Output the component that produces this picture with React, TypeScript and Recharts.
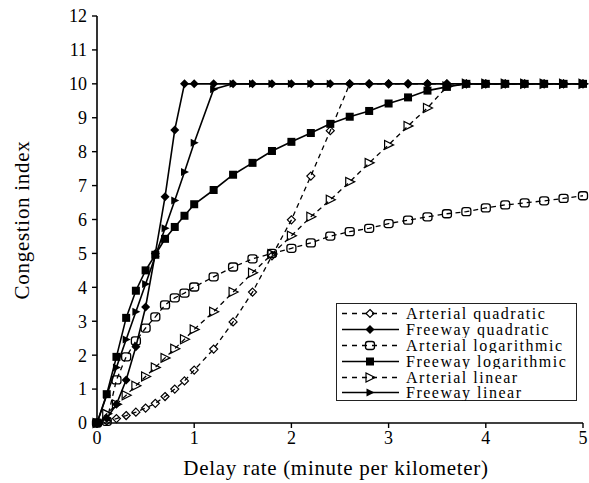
import React from "react";
import { ComposedChart, Line, XAxis, YAxis, Label } from "recharts";

// delay rate samples (minute per kilometer)
const delayRate = [0, 0.1, 0.2, 0.3, 0.4, 0.5, 0.6, 0.7, 0.8, 0.9, 1.0, 1.2, 1.4, 1.6, 1.8, 2.0, 2.2, 2.4, 2.6, 2.8, 3.0, 3.2, 3.4, 3.6, 3.8, 4.0, 4.2, 4.4, 4.6, 4.8, 5.0];

// congestion index
const arterialQuadratic = [0, 0.06, 0.13, 0.22, 0.32, 0.44, 0.58, 0.78, 1.0, 1.24, 1.56, 2.18, 2.98, 3.86, 4.93, 5.99, 7.28, 8.62, 10, 10, 10, 10, 10, 10, 10, 10, 10, 10, 10, 10, 10];
const freewayQuadratic = [0, 0.14, 0.55, 1.27, 2.25, 3.42, 5.0, 6.67, 8.64, 10, 10, 10, 10, 10, 10, 10, 10, 10, 10, 10, 10, 10, 10, 10, 10, 10, 10, 10, 10, 10, 10];
const arterialLogarithmic = [0, 0.05, 1.27, 1.95, 2.42, 2.8, 3.13, 3.48, 3.69, 3.83, 4.01, 4.31, 4.6, 4.84, 5.0, 5.15, 5.31, 5.51, 5.64, 5.74, 5.88, 5.98, 6.08, 6.17, 6.23, 6.34, 6.43, 6.49, 6.55, 6.62, 6.7];
const freewayLogarithmic = [0, 0.85, 1.95, 3.1, 3.9, 4.5, 4.96, 5.43, 5.78, 6.11, 6.45, 6.87, 7.32, 7.67, 8.02, 8.29, 8.55, 8.82, 9.03, 9.2, 9.42, 9.6, 9.8, 9.91, 10, 10, 10, 10, 10, 10, 10];
const arterialLinear = [0, 0.27, 0.55, 0.82, 1.1, 1.37, 1.64, 1.92, 2.19, 2.47, 2.76, 3.28, 3.86, 4.43, 4.98, 5.52, 6.08, 6.58, 7.11, 7.67, 8.2, 8.76, 9.29, 9.92, 10, 10, 10, 10, 10, 10, 10];
const freewayLinear = [0, 0.82, 1.64, 2.46, 3.28, 4.1, 4.92, 5.74, 6.56, 7.4, 8.26, 9.84, 10, 10, 10, 10, 10, 10, null, null, null, null, null, null, null, null, null, null, null, null, null];

const xTicks = [0, 1, 2, 3, 4, 5];
const yTicks = [0, 1, 2, 3, 4, 5, 6, 7, 8, 9, 10, 11, 12];

const FONT = '"Liberation Serif", "Times New Roman", serif';

type MarkerKind = "diamondOpen" | "diamondFilled" | "squareOpen" | "squareFilled" | "triangleOpen" | "triangleFilled";

function Marker({ kind, cx, cy }: { kind: MarkerKind; cx: number; cy: number }) {
    switch (kind) {
        case "diamondOpen":
            return <path d={`M${cx},${cy - 4} L${cx + 4},${cy} L${cx},${cy + 4} L${cx - 4},${cy} Z`} fill="none" stroke="#000" strokeWidth={1.2} />;
        case "diamondFilled":
            return <path d={`M${cx},${cy - 4.5} L${cx + 4.5},${cy} L${cx},${cy + 4.5} L${cx - 4.5},${cy} Z`} fill="#000" />;
        case "squareOpen":
            return <rect x={cx - 4.5} y={cy - 4} width={9} height={8} rx={2.5} fill="none" stroke="#000" strokeWidth={1.3} />;
        case "squareFilled":
            return <rect x={cx - 4} y={cy - 4} width={8} height={8} fill="#000" />;
        case "triangleOpen":
            return <path d={`M${cx - 4},${cy - 4.5} L${cx - 4},${cy + 4.5} L${cx + 5},${cy} Z`} fill="none" stroke="#000" strokeWidth={1.2} />;
        case "triangleFilled":
            return <path d={`M${cx - 3.5},${cy - 4} L${cx - 3.5},${cy + 4} L${cx + 4.5},${cy} Z`} fill="#000" />;
    }
    return null;
}

const renderDot = (kind: MarkerKind) => (p: any) => {
    if (p.cx == null || p.cy == null || p.value == null) return <g key={`d-${p.index}`} />;
    return <Marker key={`d-${p.index}`} kind={kind} cx={p.cx} cy={p.cy} />;
};

const rows = delayRate.map((x, i) => ({
    x,
    aq: arterialQuadratic[i],
    fq: freewayQuadratic[i],
    alog: arterialLogarithmic[i],
    flog: freewayLogarithmic[i],
    alin: arterialLinear[i],
    flin: freewayLinear[i],
}));

// legend order as in the figure
const legendItems: { name: string; dashed: boolean; marker: MarkerKind }[] = [
    { name: "Arterial quadratic", dashed: true, marker: "diamondOpen" },
    { name: "Freeway quadratic", dashed: false, marker: "diamondFilled" },
    { name: "Arterial logarithmic", dashed: true, marker: "squareOpen" },
    { name: "Freeway logarithmic", dashed: false, marker: "squareFilled" },
    { name: "Arterial linear", dashed: true, marker: "triangleOpen" },
    { name: "Freeway linear", dashed: false, marker: "triangleFilled" },
];

function LegendBox() {
    return (
        <div
            style={{
                position: "absolute",
                left: 336,
                top: 303,
                width: 241,
                height: 98,
                border: "1.3px solid #222",
                background: "#fff",
                boxSizing: "border-box",
                paddingTop: 2,
            }}
        >
            {legendItems.map((item) => (
                <div key={item.name} style={{ display: "flex", alignItems: "center", height: 15.8, overflow: "hidden" }}>
                    <svg width={64} height={15} style={{ flex: "none", marginLeft: 2 }}>
                        <line
                            x1={3}
                            y1={7.5}
                            x2={60}
                            y2={7.5}
                            stroke="#000"
                            strokeWidth={item.dashed ? 1.4 : 1.6}
                            strokeDasharray={item.dashed ? "5 5" : undefined}
                        />
                        <Marker kind={item.marker} cx={31} cy={7.5} />
                    </svg>
                    <span
                        style={{
                            fontFamily: FONT,
                            fontSize: 16,
                            letterSpacing: 1.5,
                            lineHeight: "15px",
                            marginLeft: 3,
                            color: "#000",
                            whiteSpace: "nowrap",
                        }}
                    >
                        {item.name}
                    </span>
                </div>
            ))}
        </div>
    );
}

const tickStyle = { fill: "#000", fontSize: 18, fontFamily: FONT };

export default function App() {
    return (
        <div style={{ position: "absolute", left: 0, top: 0, width: 589, height: 483, background: "#fff" }}>
            <ComposedChart width={589} height={483} data={rows} margin={{ top: 16, right: 6, bottom: 30, left: 37 }}>
                <XAxis
                    type="number"
                    dataKey="x"
                    domain={[0, 5]}
                    ticks={xTicks}
                    tick={tickStyle}
                    tickSize={5}
                    tickMargin={3}
                    height={30}
                    axisLine={{ stroke: "#000", strokeWidth: 1.6 }}
                    tickLine={{ stroke: "#000", strokeWidth: 1.4 }}
                >
                    <Label
                        content={() => (
                            <text x={336} y={468} textAnchor="middle" dominantBaseline="central" fontFamily={FONT} fontSize={21} letterSpacing={0.7} fill="#000">
                                Delay rate (minute per kilometer)
                            </text>
                        )}
                    />
                </XAxis>
                <YAxis
                    type="number"
                    domain={[0, 12]}
                    ticks={yTicks}
                    tick={tickStyle}
                    tickSize={5}
                    tickMargin={5}
                    width={60}
                    axisLine={{ stroke: "#000", strokeWidth: 1.6 }}
                    tickLine={{ stroke: "#000", strokeWidth: 1.4 }}
                >
                    <Label
                        content={() => (
                            <text x={22} y={220} textAnchor="middle" dominantBaseline="central" transform="rotate(-90 22 220)" fontFamily={FONT} fontSize={21} letterSpacing={0.7} fill="#000">
                                Congestion index
                            </text>
                        )}
                    />
                </YAxis>

                <Line type="linear" dataKey="alog" name="Arterial logarithmic" stroke="#000" strokeWidth={1.3} strokeDasharray="5 4" dot={renderDot("squareOpen")} activeDot={false} isAnimationActive={false} />
                <Line type="linear" dataKey="alin" name="Arterial linear" stroke="#000" strokeWidth={1.3} strokeDasharray="5 4" dot={renderDot("triangleOpen")} activeDot={false} isAnimationActive={false} />
                <Line type="linear" dataKey="aq" name="Arterial quadratic" stroke="#000" strokeWidth={1.3} strokeDasharray="5 4" dot={renderDot("diamondOpen")} activeDot={false} isAnimationActive={false} />
                <Line type="linear" dataKey="flog" name="Freeway logarithmic" stroke="#000" strokeWidth={1.6} dot={renderDot("squareFilled")} activeDot={false} isAnimationActive={false} />
                <Line type="linear" dataKey="fq" name="Freeway quadratic" stroke="#000" strokeWidth={1.6} dot={renderDot("diamondFilled")} activeDot={false} isAnimationActive={false} />
                <Line type="linear" dataKey="flin" name="Freeway linear" stroke="#000" strokeWidth={1.6} dot={renderDot("triangleFilled")} activeDot={false} isAnimationActive={false} />
            </ComposedChart>
            <LegendBox />
        </div>
    );
}
